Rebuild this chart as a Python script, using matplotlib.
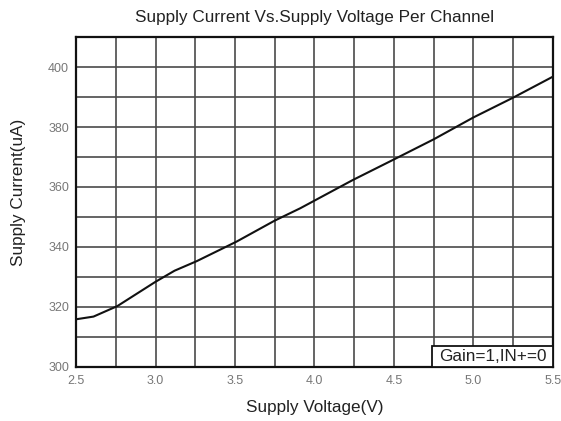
import matplotlib
matplotlib.use("Agg")
import matplotlib.pyplot as plt
from matplotlib.patches import Rectangle
import numpy as np

plt.rcParams['font.family'] = ['Liberation Sans', 'DejaVu Sans']

voltage = [2.50, 2.61, 2.76, 3.00, 3.12, 3.26, 3.51, 3.75, 3.91, 4.24, 4.50, 4.75, 5.00, 5.25, 5.50]
current = [315.9, 316.8, 320.3, 328.4, 332.1, 335.3, 341.8, 348.8, 352.9, 362.3, 369.2, 375.9, 383.2, 389.8, 396.8]

xticks = [2.5, 3.0, 3.5, 4.0, 4.5, 5.0, 5.5]
xtick_labels = ["2.5", "3.0", "3.5", "4.0", "4.5", "5.0", "5.5"]
yticks = [300, 320, 340, 360, 380, 400]
ytick_labels = ["300", "320", "340", "360", "380", "400"]

fig = plt.figure(figsize=(5.61, 4.21), dpi=100)
ax = fig.add_axes([0.1355, 0.1283, 0.8502, 0.7838])

ax.plot(voltage, current, color='#111111', lw=1.5, zorder=3)

ax.set_xlim(2.5, 5.5)
ax.set_ylim(300, 410)
ax.set_xticks(xticks)
ax.set_xticks(np.arange(2.75, 5.5, 0.5), minor=True)
ax.set_xticklabels(xtick_labels)
ax.set_yticks(yticks)
ax.set_yticks(np.arange(310, 411, 20), minor=True)
ax.set_yticklabels(ytick_labels)
ax.grid(True, which='both', color='#4a4a4a', lw=1.2, zorder=1)
ax.set_axisbelow(True)
ax.tick_params(which='both', length=0, labelsize=9, labelcolor='#777777')
ax.tick_params(axis='x', pad=6)
ax.tick_params(axis='y', pad=5)

for s in ax.spines.values():
    s.set_color('#111111')
    s.set_linewidth(1.6)

ax.set_title("Supply Current Vs.Supply Voltage Per Channel", fontsize=12.3, pad=11, color='#222222')
ax.set_xlabel("Supply Voltage(V)", fontsize=12.3, labelpad=9, color='#222222')
ax.set_ylabel("Supply Current(uA)", fontsize=12.3, labelpad=16, color='#222222')
ax.yaxis.label.set_y(0.53)

box_x0 = 0.746
box_h = 0.064
ax.add_patch(Rectangle((box_x0, 0.0), 1.0 - box_x0, box_h, transform=ax.transAxes,
                       facecolor='white', edgecolor='#111111', lw=1.3, zorder=4, clip_on=False))
ax.text((box_x0 + 1.0) / 2, box_h / 2, "Gain=1,IN+=0", transform=ax.transAxes,
        ha='center', va='center', fontsize=12.3, color='#222222', zorder=5)

fig.savefig("out.png", dpi=100)
